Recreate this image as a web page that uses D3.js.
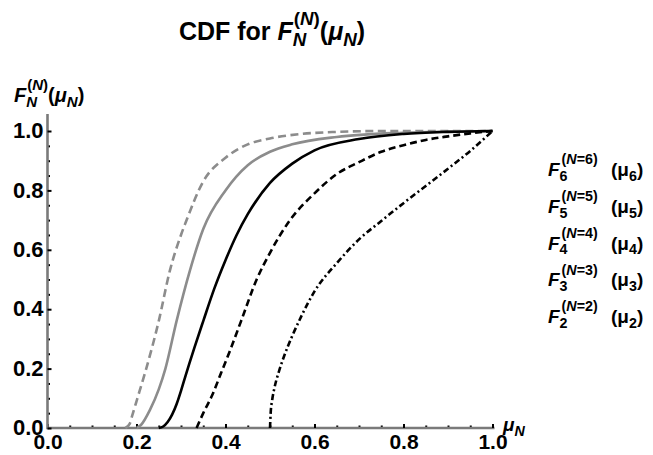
<!DOCTYPE html>
<html><head><meta charset="utf-8">
<script src="https://cdn.jsdelivr.net/npm/d3@7"></script>
<style>
html,body{margin:0;padding:0;background:#fff;}
svg text{font-family:"Liberation Sans",Arial,Helvetica,sans-serif;font-weight:bold;fill:#000;}
</style></head>
<body>
<svg id="chart" width="653" height="455"></svg>
<script>
// ---- data ----
const xTickValues = [0, 0.2, 0.4, 0.6, 0.8, 1.0];
const xTickLabels = ["0.0", "0.2", "0.4", "0.6", "0.8", "1.0"];
const yTickValues = [0, 0.2, 0.4, 0.6, 0.8, 1.0];
const yTickLabels = ["0.0", "0.2", "0.4", "0.6", "0.8", "1.0"];

const seriesN = [6, 5, 4, 3, 2];

const mu6 = [0.175,0.185,0.190,0.200,0.220,0.250,0.275,0.300,0.310,0.350,0.400,0.450,0.500,0.570,0.650,0.750,0.850,1.000];
const F6  = [0.000,0.015,0.040,0.090,0.190,0.360,0.530,0.650,0.690,0.830,0.910,0.955,0.975,0.990,0.997,1.000,1.000,1.000];

const mu5 = [0.200,0.210,0.230,0.250,0.265,0.290,0.320,0.350,0.400,0.450,0.500,0.550,0.650,0.800,1.000];
const F5  = [0.000,0.010,0.060,0.130,0.200,0.360,0.530,0.670,0.800,0.885,0.930,0.955,0.980,0.994,1.000];

const mu4 = [0.250,0.260,0.270,0.280,0.290,0.300,0.310,0.330,0.350,0.375,0.400,0.425,0.450,0.500,0.550,0.600,0.700,0.800,0.900,1.000];
const F4  = [0.000,0.005,0.020,0.045,0.080,0.125,0.175,0.270,0.360,0.470,0.565,0.650,0.720,0.825,0.890,0.935,0.973,0.990,0.997,1.000];

const mu3 = [0.335,0.350,0.370,0.390,0.410,0.435,0.470,0.500,0.545,0.600,0.650,0.700,0.750,0.800,0.850,0.900,0.950,1.000];
const F3  = [0.000,0.050,0.110,0.185,0.260,0.360,0.500,0.590,0.700,0.790,0.855,0.895,0.930,0.952,0.970,0.982,0.992,1.000];

const mu2 = [0.500,0.5015,0.505,0.510,0.520,0.530,0.550,0.570,0.600,0.650,0.700,0.750,0.800,0.850,0.900,0.950,1.000];
const F2  = [0.000,0.050,0.095,0.135,0.190,0.235,0.310,0.375,0.460,0.555,0.635,0.697,0.757,0.815,0.873,0.933,1.000];

const seriesColors = ["#8c8c8c", "#8c8c8c", "#000000", "#000000", "#000000"];
const seriesDash   = ["8,4.5", null, null, "7,4", "6,3,2,3"];

// ---- layout ----
const svg = d3.select("#chart");
const x = d3.scaleLinear().domain([0, 1]).range([47.5, 492.5]);
const y = d3.scaleLinear().domain([0, 1]).range([428, 131]);

// math-text helper: pieces are {s:[[text,italic],...]}, {sub:[...], sup:[...]} or {at:offset}
function mathText(parent, px, py, pieces, size, anchor) {
  const g = parent.append("g");
  let cx = 0;
  const addSegs = (segs, xx, yy, fs) => {
    const t = g.append("text").attr("x", xx).attr("y", yy).style("font-size", fs + "px");
    segs.forEach(([txt, it]) => {
      t.append("tspan").text(txt).style("font-style", it ? "italic" : "normal");
    });
    return t.node().getComputedTextLength();
  };
  pieces.forEach(p => {
    if (p.at !== undefined) {
      cx = p.at;
    } else if (p.s) {
      cx += addSegs(p.s, cx, 0, size);
    } else {
      let w = 0;
      const fs = size * 0.75;
      if (p.sub) w = Math.max(w, addSegs(p.sub, cx + (p.subShift || 0), size * 0.25, fs) + (p.subShift || 0));
      if (p.sup) w = Math.max(w, addSegs(p.sup, cx + (p.supShift || 0), -size * 0.62, fs) + (p.supShift || 0));
      cx += w;
    }
  });
  const dx = anchor === "middle" ? -cx / 2 : (anchor === "end" ? -cx : 0);
  g.attr("transform", `translate(${px + dx},${py})`);
  return g;
}

// ---- axes ----
const xMinor = d3.range(0, 1.0001, 0.05).filter(v => Math.abs(v * 5 - Math.round(v * 5)) > 1e-6);
const yMinor = xMinor;

const gxMinor = svg.append("g").attr("transform", `translate(0,${y(0)})`)
  .call(d3.axisBottom(x).tickValues(xMinor).tickSize(-2.5).tickFormat(""));
const gyMinor = svg.append("g").attr("transform", `translate(${x(0)},0)`)
  .call(d3.axisLeft(y).tickValues(yMinor).tickSize(-2.5).tickFormat(""));

const gx = svg.append("g").attr("transform", `translate(0,${y(0)})`)
  .call(d3.axisBottom(x).tickValues(xTickValues).tickSize(-4).tickSizeOuter(0)
    .tickFormat((d, i) => xTickLabels[i]));
const gy = svg.append("g").attr("transform", `translate(${x(0)},0)`)
  .call(d3.axisLeft(y).tickValues(yTickValues).tickSize(-4).tickSizeOuter(0)
    .tickFormat((d, i) => yTickLabels[i]));

[gxMinor, gyMinor].forEach(g => g.select(".domain").remove());
[gx, gxMinor, gy, gyMinor].forEach(g => {
  g.selectAll(".tick line").attr("stroke", "#000").attr("stroke-width", 2);
});
gx.select(".domain").attr("stroke", "#7a7a7a").attr("stroke-width", 2.6)
  .attr("d", `M${x(0)},0H${x(1) + 2}`);
gy.select(".domain").attr("stroke", "#7a7a7a").attr("stroke-width", 2.6)
  .attr("d", `M0,${y(0) + 1.3}V${y(1.057)}`);

const tickFont = (g, fs) => g.style("font-size", fs + "px").style("font-family", "Liberation Sans, Arial, sans-serif")
  .style("font-weight", "bold").attr("fill", "#000");
gx.selectAll(".tick text").attr("y", 21).attr("dy", 0).call(tickFont, 21);
gy.selectAll(".tick text").attr("x", -4).attr("dy", "0.30em").call(tickFont, 22);

// ---- curves ----
const muArrays = [mu6, mu5, mu4, mu3, mu2];
const FArrays = [F6, F5, F4, F3, F2];
const line = d3.line().x(d => x(d[0])).y(d => y(d[1])).curve(d3.curveMonotoneX);
const plot = svg.append("g");
seriesN.forEach((n, i) => {
  const pts = muArrays[i].map((m, j) => [m, FArrays[i][j]]);
  plot.append("path").datum(pts)
    .attr("d", line)
    .attr("fill", "none")
    .attr("stroke", seriesColors[i])
    .attr("stroke-width", 2.6)
    .attr("stroke-dasharray", seriesDash[i]);
});

// ---- texts ----
mathText(svg, 272, 40, [
  {s: [["CDF for ", false], ["F", true]]},
  {sub: [["N", true]], sup: [["(", false], ["N", true], [")", false]], supShift: 1},
  {s: [["(", false], ["μ", true]]},
  {sub: [["N", true]]},
  {s: [[")", false]]}
], 25, "middle");

mathText(svg, 14, 102, [
  {s: [["F", true]]},
  {sub: [["N", true]], sup: [["(", false], ["N", true], [")", false]], supShift: 1},
  {s: [["(", false], ["μ", true]]},
  {sub: [["N", true]]},
  {s: [[")", false]]}
], 20, "start");

mathText(svg, 503, 431, [
  {s: [["μ", true]]},
  {sub: [["N", true]]}
], 19, "start");

seriesN.forEach((n, i) => {
  mathText(svg, 548, 176 + i * 36.8, [
    {s: [["F", true]]},
    {sub: [[String(n), false]], sup: [["(", false], ["N", true], ["=" + n + ")", false]], supShift: 2},
    {at: 63},
    {s: [["(μ", false]]},
    {sub: [[String(n), false]]},
    {s: [[")", false]]}
  ], 19, "start");
});
</script>
</body></html>
